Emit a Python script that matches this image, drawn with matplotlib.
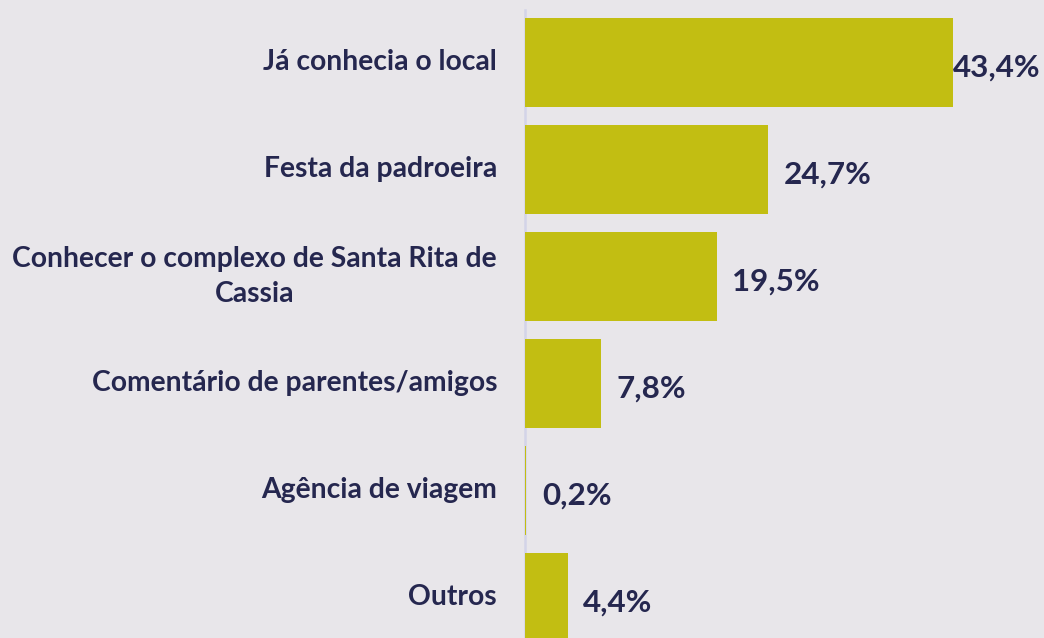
import matplotlib
matplotlib.use("Agg")
import matplotlib.pyplot as plt
import matplotlib.transforms as mtransforms

categories = [
    "Já conhecia o local",
    "Festa da padroeira",
    "Conhecer o complexo de Santa Rita de\nCassia",
    "Comentário de parentes/amigos",
    "Agência de viagem",
    "Outros",
]
values = [43.4, 24.7, 19.5, 7.8, 0.2, 4.4]
value_labels = ["43,4%", "24,7%", "19,5%", "7,8%", "0,2%", "4,4%"]

BG = "#E8E6EA"
BAR = "#C2BE12"
TXT = "#25274F"
AXIS = "#D3D4E8"

W, H = 1044, 638
fig = plt.figure(figsize=(W / 100, H / 100), dpi=100, facecolor=BG)
ax = fig.add_axes([524.5 / W, 0, 519.5 / W, 628 / H])
ax.set_facecolor(BG)

ypos = list(range(len(categories)))
ax.barh(ypos, values, height=0.83, color=BAR, zorder=3)
ax.set_xlim(0, 519.5 / 9.862)
ax.set_ylim(5 + 0.379, -0.49)

for s in ["top", "right", "bottom"]:
    ax.spines[s].set_visible(False)
ax.spines["left"].set_color(AXIS)
ax.spines["left"].set_linewidth(1.8)
ax.spines["left"].set_zorder(2)
ax.set_xticks([])
ax.set_yticks([])

font = "Lato"
trans = mtransforms.blended_transform_factory(ax.transAxes, ax.transData)
for y, c in zip(ypos, categories):
    ax.text(-27.5 / 519.5, y, c, transform=trans, ha="right", va="center",
            multialignment="center", fontsize=20.3, fontweight="bold",
            color=TXT, family=font, linespacing=1.4)

for i, (y, v, lab) in enumerate(zip(ypos, values, value_labels)):
    off = 0.05 if i == 0 else 1.55
    ax.text(v + off, y + 0.05, lab, ha="left", va="center", fontsize=22.6,
            fontweight="bold", color=TXT, family=font, clip_on=False)

fig.savefig("out.png", dpi=100, facecolor=BG)
